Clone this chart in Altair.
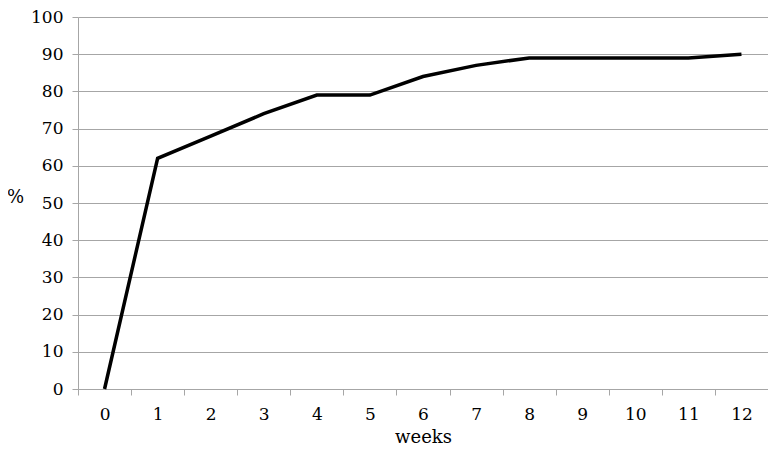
import altair as alt
import pandas as pd

weeks = [0, 1, 2, 3, 4, 5, 6, 7, 8, 9, 10, 11, 12]
percent = [0, 62, 68, 74, 79, 79, 84, 87, 89, 89, 89, 89, 90]

df = pd.DataFrame({"week": weeks, "pct": percent})

FONT = "DejaVu Serif"
GRAY = "#a6a6a6"

chart = alt.Chart(df).mark_line(color="black", strokeWidth=3.5).encode(
    x=alt.X(
        "week:O",
        bandPosition=0.5,
        scale=alt.Scale(type="band", paddingInner=0, paddingOuter=0),
        sort=weeks,
        axis=alt.Axis(
            title="weeks",
            labelAngle=0,
            tickBand="extent",
            tickSize=6,
            tickColor=GRAY,
            domainColor=GRAY,
            labelPadding=11,
            titlePadding=6,
            grid=False,
            labelFont=FONT,
            titleFont=FONT,
        ),
    ),
    y=alt.Y(
        "pct:Q",
        scale=alt.Scale(domain=[0, 100], nice=False),
        axis=alt.Axis(
            title="%",
            values=list(range(0, 101, 10)),
            titleAngle=0,
            titleAlign="center",
            titleBaseline="middle",
            titleX=-63,
            titleY=180,
            tickSize=6,
            tickColor=GRAY,
            domainColor=GRAY,
            gridColor=GRAY,
            labelPadding=9,
            labelFont=FONT,
            titleFont=FONT,
        ),
    ),
).properties(
    width=690,
    height=372,
    autosize=alt.AutoSizeParams(type="none"),
    padding={"left": 70, "top": 9, "right": 0, "bottom": 70},
).configure(font=FONT).configure_axis(
    labelFontSize=17,
    titleFontSize=18,
    labelColor="black",
    titleColor="black",
    titleFontWeight="normal",
    domainWidth=1,
    tickWidth=1,
    gridWidth=1,
).configure_view(stroke=None)

chart.save("out.html", embed_options={"renderer": "svg", "actions": False})
